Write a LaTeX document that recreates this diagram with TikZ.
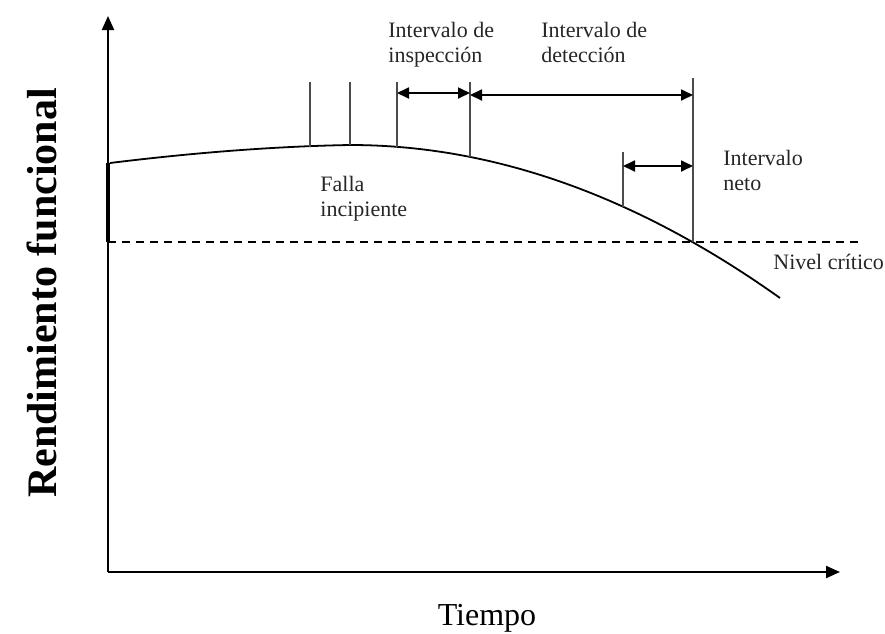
\documentclass[tikz,border=0pt]{standalone}
\usepackage{fontspec}
\setmainfont{Liberation Serif}
\usetikzlibrary{arrows.meta}
\begin{document}
\begin{tikzpicture}[x=0.5pt,y=-0.5pt,
  axis/.style={line width=1.1pt,-{Triangle[length=7pt,width=6pt]}},
  tick/.style={line width=0.8pt,draw=black!70},
  dim/.style={line width=0.9pt,{Triangle[length=6pt,width=5.5pt]}-{Triangle[length=6pt,width=5.5pt]}},
  lbl/.style={font=\fontsize{11}{12.5}\selectfont,align=left,anchor=north west,inner sep=0pt,text=black!85},
  crit/.style={line width=0.6pt,dash pattern=on 4pt off 3pt},
  curve/.style={line width=0.9pt}]
\useasboundingbox (0,0) rectangle (885,633);
% axes
\coordinate (o) at (108,572);
\coordinate (ytop) at (108,16);
\coordinate (xend) at (840,572);
\draw[axis] (o) -- (ytop);
\draw[axis] (o) -- (xend);
\coordinate (ys1) at (108,163);
\coordinate (ys2) at (108,242);
\draw[line width=1.6pt] (ys1) -- (ys2);
% critical level
\coordinate (c1) at (108,242);
\coordinate (c2) at (858,242);
\draw[crit] (c1) -- (c2);
% curve
\coordinate (p0) at (110,163);
\coordinate (pk) at (350,145);
\coordinate (pe) at (780,298);
\draw[curve] (p0) .. controls (196.7,152.3) and (276.7,146.3) .. (pk)
  .. controls (493.3,145) and (636.7,196) .. (pe);
% vertical lines
\coordinate (v1b) at (310,146.5); \coordinate (v1t) at (310,82);
\coordinate (v2b) at (350,145); \coordinate (v2t) at (350,82);
\coordinate (v3b) at (397,147); \coordinate (v3t) at (397,82);
\coordinate (v4b) at (470,157); \coordinate (v4t) at (470,82);
\coordinate (v5b) at (623,207); \coordinate (v5t) at (623,152);
\coordinate (v6b) at (693,242); \coordinate (v6t) at (693,78);
\foreach \a/\b in {v1b/v1t,v2b/v2t,v3b/v3t,v4b/v4t,v5b/v5t,v6b/v6t}
  \draw[tick] (\a) -- (\b);
% dimension arrows
\coordinate (a1l) at (397,93); \coordinate (a1r) at (470,93);
\coordinate (a2l) at (470,95); \coordinate (a2r) at (693,95);
\coordinate (a3l) at (623,166); \coordinate (a3r) at (693,166);
\draw[dim] (a1l) -- (a1r);
\draw[dim] (a2l) -- (a2r);
\draw[dim] (a3l) -- (a3r);
% labels
\node[lbl] (insp) at (388,22) {Intervalo de\\inspección};
\node[lbl] (det) at (541,22) {Intervalo de\\detección};
\node[lbl] (neto) at (723,150) {Intervalo\\neto};
\node[lbl] (falla) at (320,176) {Falla\\incipiente};
\node[lbl] (nivel) at (773,254) {Nivel crítico};
\node[font=\fontsize{16}{18}\selectfont] (tiempo) at (487,618) {Tiempo};
\node[font=\bfseries\fontsize{21}{23}\selectfont,rotate=90] (rend) at (42,293) {Rendimiento funcional};
\end{tikzpicture}
\end{document}
